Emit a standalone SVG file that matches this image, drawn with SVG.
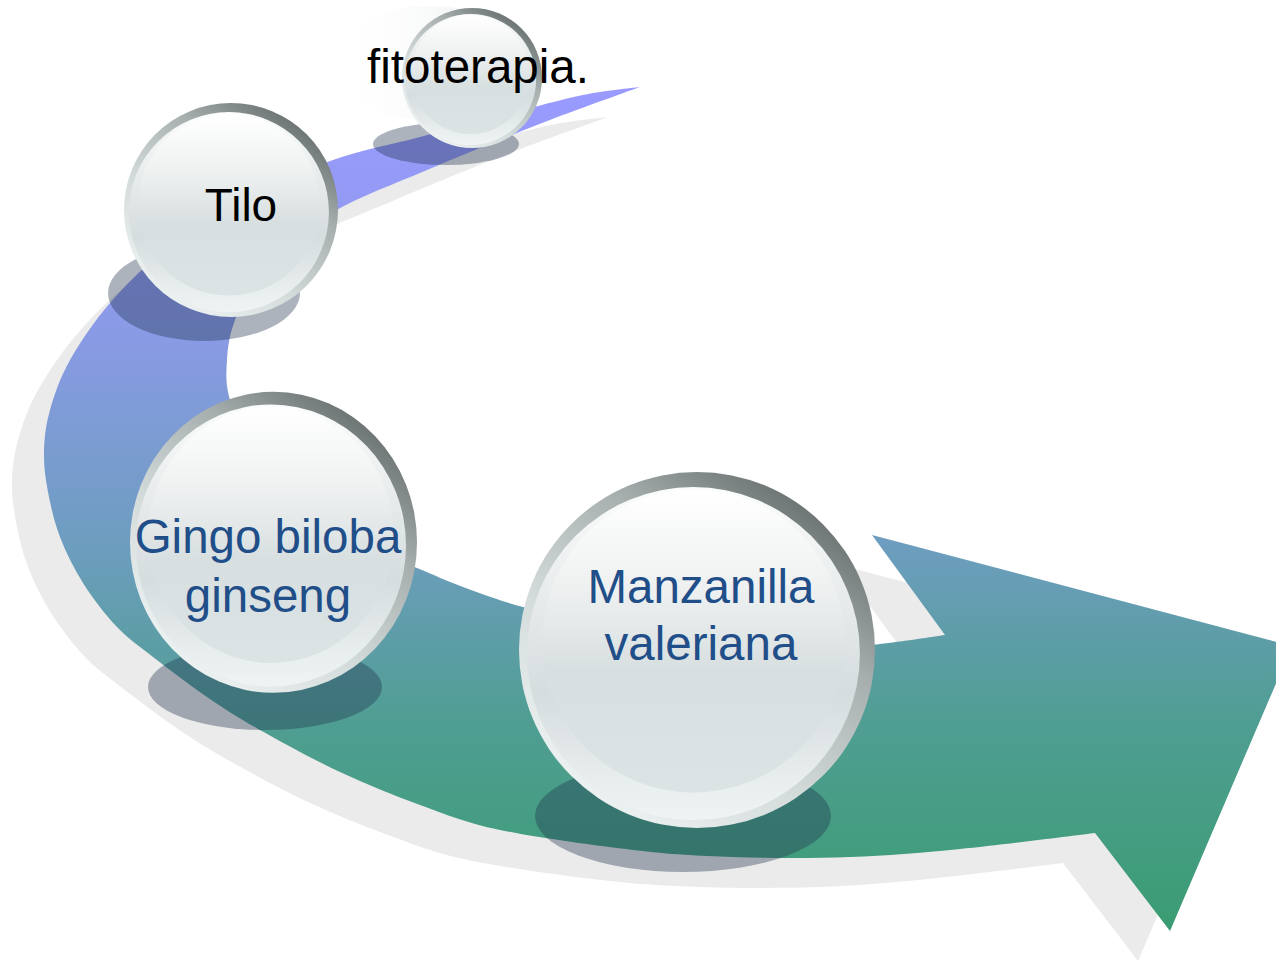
<svg xmlns="http://www.w3.org/2000/svg" width="1276" height="960" viewBox="0 0 1276 960">
<defs>
<style>
.lbl{font-family:"Liberation Sans",Arial,sans-serif;font-size:47.5px;text-anchor:middle}
.dark{fill:#000}
.blue{fill:#1f4e89}
.rim{fill:url(#rimG)}
.face{fill:url(#faceG)}
.inner{fill:url(#innerG)}
.shd{fill:#1f314d;fill-opacity:0.37}
</style>
<linearGradient id="bandG" gradientUnits="userSpaceOnUse" x1="0" y1="87" x2="0" y2="931">
<stop offset="0" stop-color="#9a9aff"/>
<stop offset="0.25" stop-color="#8e9aeb"/>
<stop offset="0.537" stop-color="#6e9dc0"/>
<stop offset="0.75" stop-color="#509e93"/>
<stop offset="1" stop-color="#3a9c72"/>
</linearGradient>
<linearGradient id="rimG" x1="0.85" y1="0.08" x2="0.2" y2="0.95">
<stop offset="0" stop-color="#646c6c"/>
<stop offset="0.3" stop-color="#a6aeae"/>
<stop offset="0.65" stop-color="#d4dbdb"/>
<stop offset="1" stop-color="#eef3f3"/>
</linearGradient>
<linearGradient id="faceG" x1="0" y1="0" x2="0" y2="1">
<stop offset="0" stop-color="#fbfcfc"/>
<stop offset="0.35" stop-color="#e6eaea"/>
<stop offset="0.62" stop-color="#d6dddf"/>
<stop offset="0.88" stop-color="#e8eded"/>
<stop offset="1" stop-color="#eff3f3"/>
</linearGradient>
<linearGradient id="innerG" x1="0" y1="0" x2="0" y2="1">
<stop offset="0" stop-color="#ffffff"/>
<stop offset="0.3" stop-color="#f0f2f2"/>
<stop offset="0.6" stop-color="#d8dfe0"/>
<stop offset="1" stop-color="#dbe3e4"/>
</linearGradient>
<linearGradient id="glowG" x1="0" y1="0" x2="1" y2="0">
<stop offset="0" stop-color="#ffffff" stop-opacity="0"/>
<stop offset="1" stop-color="#e6eaea" stop-opacity="1"/>
</linearGradient>
<path id="band" d="M640,87 C630.5,88.3 606.3,90.2 583,95 C559.7,99.8 527.2,109 500,116 C472.8,123 447.8,129.7 420,137 C392.2,144.3 363,149.5 333,160 C303,170.5 268,185 240,200 C212,215 186.7,232.8 165,250 C143.3,267.2 125.8,284.7 110,303 C94.2,321.3 80,342.2 70,360 C60,377.8 54.3,394.7 50,410 C45.7,425.3 44.3,438.3 44,452 C43.7,465.7 45.3,477.8 48,492 C50.7,506.2 54.2,521.8 60,537 C65.8,552.2 73.5,568 83,583 C92.5,598 105.3,614.7 117,627 C128.7,639.3 138,645.3 153,657 C168,668.7 189.2,684.8 207,697 C224.8,709.2 237.8,717.5 260,730 C282.2,742.5 313.3,759.5 340,772 C366.7,784.5 393.3,795.3 420,805 C446.7,814.7 464.5,822.5 500,830 C535.5,837.5 594.2,845.5 633,850 C671.8,854.5 696.8,855.8 733,857 C769.2,858.2 812.2,858.3 850,857 C887.8,855.7 919.2,853 960,849 C1000.8,845 1072.5,835.7 1095,833 L1170,931 L1292,646 L872,535 L945,635 C934.2,636.5 900.8,641.8 880,644 C859.2,646.2 846.7,648 820,648 C793.3,648 753.3,647 720,644 C686.7,641 652.8,636.2 620,630 C587.2,623.8 549.2,614.2 523,607 C496.8,599.8 480.7,593.5 463,587 C445.3,580.5 434.2,575 417,568 C399.8,561 379.5,554.3 360,545 C340.5,535.7 317.5,526.2 300,512 C282.5,497.8 266.7,478.7 255,460 C243.3,441.3 234.7,416.7 230,400 C225.3,383.3 226.2,373.3 227,360 C227.8,346.7 229.2,335.8 235,320 C240.8,304.2 245.7,283 262,265 C278.3,247 305.5,227.8 333,212 C360.5,196.2 392.2,184.8 427,170 C461.8,155.2 506.5,136.8 542,123 C577.5,109.2 623.7,93 640,87 Z"/>
</defs>
<rect width="1276" height="960" fill="#ffffff"/>
<g id="connectors">
<use href="#band" transform="translate(-32,30)" fill="#ebebeb"/>
<use href="#band" fill="url(#bandG)"/>
</g>
<g id="node-fitoterapia">
<ellipse cx="430" cy="63" rx="95" ry="57" fill="url(#glowG)"/>
<ellipse class="shd" cx="446" cy="144" rx="73" ry="21"/>
<circle class="rim" cx="472" cy="78" r="70"/>
<circle class="face" cx="470.6" cy="79.4" r="65.5"/>
<circle class="inner" cx="470.6" cy="74.5" r="59.5"/>
<text class="lbl dark" x="478" y="83">fitoterapia.</text>
</g>
<g id="node-tilo">
<ellipse class="shd" cx="204" cy="293" rx="96" ry="48"/>
<circle class="rim" cx="231" cy="210" r="107"/>
<circle class="face" cx="228.9" cy="212.1" r="100"/>
<circle class="inner" cx="228.9" cy="204.6" r="91"/>
<text class="lbl dark" x="241" y="221" style="font-size:46px">Tilo</text>
</g>
<g id="node-gingo">
<ellipse class="shd" cx="265" cy="687" rx="117" ry="43"/>
<ellipse class="rim" cx="273.5" cy="542.3" rx="143.5" ry="150.5"/>
<ellipse class="face" cx="271" cy="545.5" rx="135" ry="141"/>
<ellipse class="inner" cx="271" cy="535" rx="123" ry="128"/>
<text class="lbl blue" x="268" y="553">Gingo biloba</text>
<text class="lbl blue" x="268" y="612">ginseng</text>
</g>
<g id="node-manzanilla">
<ellipse class="shd" cx="683" cy="816" rx="148" ry="56"/>
<circle class="rim" cx="697" cy="650" r="178"/>
<circle class="face" cx="693.4" cy="653.6" r="166.5"/>
<circle class="inner" cx="693.4" cy="641" r="151.5"/>
<text class="lbl blue" x="701" y="603">Manzanilla</text>
<text class="lbl blue" x="701" y="660">valeriana</text>
</g>
</svg>
